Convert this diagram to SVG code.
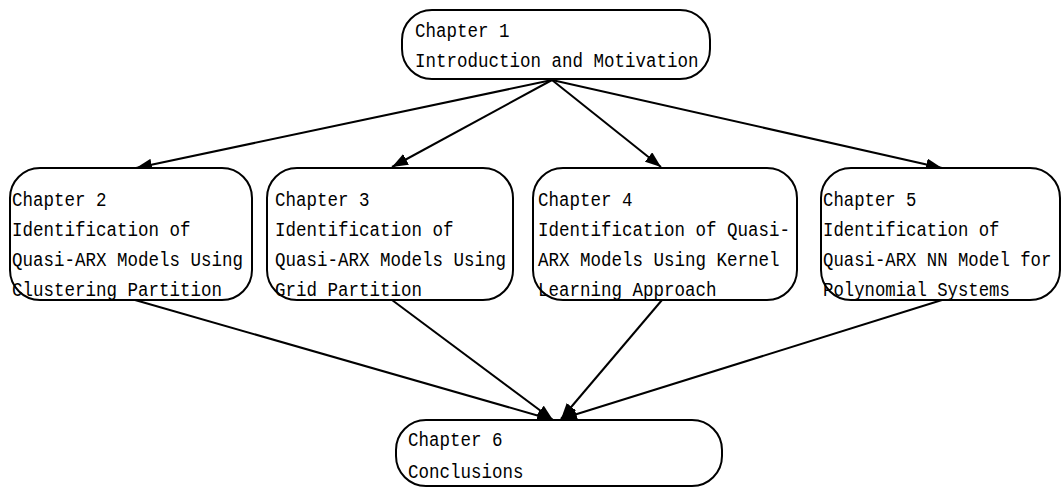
<svg xmlns="http://www.w3.org/2000/svg" width="1062" height="488" viewBox="0 0 1062 488">
<defs>
<style>
.box{fill:#fff;stroke:#000;stroke-width:2}
.t{font-family:"Liberation Mono","DejaVu Sans Mono",monospace;font-size:20px;fill:#000}
.c{stroke:#000;stroke-width:2;fill:none;marker-end:url(#ah)}
</style>
<marker id="ah" viewBox="0 0 16 12" refX="16" refY="6" markerWidth="16" markerHeight="12" markerUnits="userSpaceOnUse" orient="auto">
<path d="M0,0 L16,6 L0,12 z" fill="#000"/>
</marker>
</defs>
<g id="connectors">
<line class="c" x1="552" y1="80" x2="136" y2="168"/>
<line class="c" x1="552" y1="80" x2="392" y2="167"/>
<line class="c" x1="552" y1="80" x2="661" y2="167"/>
<line class="c" x1="552" y1="80" x2="942" y2="168"/>
<line class="c" x1="135" y1="300" x2="553" y2="420"/>
<line class="c" x1="392" y1="300" x2="553" y2="420"/>
<line class="c" x1="662" y1="300" x2="561" y2="419"/>
<line class="c" x1="942" y1="300" x2="561" y2="419"/>
</g>
<g id="ch1">
<rect class="box" x="402" y="10" width="308" height="69" rx="30" ry="30"/>
<g transform="translate(415,0) scale(0.875,1)">
<text class="t" x="0" y="37">Chapter 1</text>
<text class="t" x="0" y="67">Introduction and Motivation</text>
</g>
</g>
<g id="ch2">
<rect class="box" x="10" y="168" width="242" height="132" rx="30" ry="30"/>
<g transform="translate(12,0) scale(0.875,1)">
<text class="t" x="0" y="206">Chapter 2</text>
<text class="t" x="0" y="236">Identification of</text>
<text class="t" x="0" y="266">Quasi-ARX Models Using</text>
<text class="t" x="0" y="296">Clustering Partition</text>
</g>
</g>
<g id="ch3">
<rect class="box" x="267" y="168" width="246" height="132" rx="30" ry="30"/>
<g transform="translate(275,0) scale(0.875,1)">
<text class="t" x="0" y="206">Chapter 3</text>
<text class="t" x="0" y="236">Identification of</text>
<text class="t" x="0" y="266">Quasi-ARX Models Using</text>
<text class="t" x="0" y="296">Grid Partition</text>
</g>
</g>
<g id="ch4">
<rect class="box" x="533" y="168" width="264" height="132" rx="30" ry="30"/>
<g transform="translate(538,0) scale(0.875,1)">
<text class="t" x="0" y="206">Chapter 4</text>
<text class="t" x="0" y="236">Identification of Quasi-</text>
<text class="t" x="0" y="266">ARX Models Using Kernel</text>
<text class="t" x="0" y="296">Learning Approach</text>
</g>
</g>
<g id="ch5">
<rect class="box" x="821" y="168" width="239" height="132" rx="30" ry="30"/>
<g transform="translate(823,0) scale(0.865,1)">
<text class="t" x="0" y="206">Chapter 5</text>
<text class="t" x="0" y="236">Identification of</text>
<text class="t" x="0" y="266">Quasi-ARX NN Model for</text>
<text class="t" x="0" y="296">Polynomial Systems</text>
</g>
</g>
<g id="ch6">
<rect class="box" x="396" y="420" width="326" height="66" rx="30" ry="30"/>
<g transform="translate(408,0) scale(0.875,1)">
<text class="t" x="0" y="446">Chapter 6</text>
<text class="t" x="0" y="478">Conclusions</text>
</g>
</g>
</svg>
